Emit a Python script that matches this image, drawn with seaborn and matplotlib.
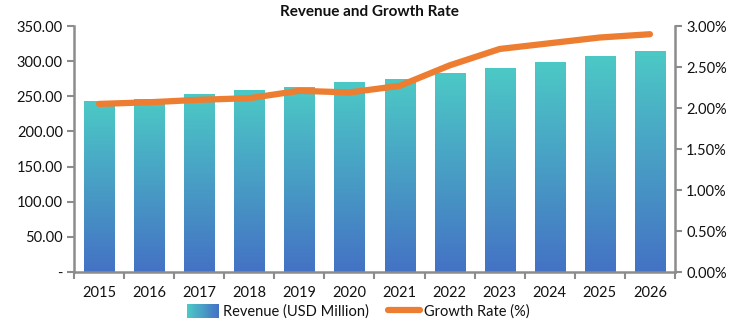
import numpy as np
import pandas as pd
import matplotlib
matplotlib.use("Agg")
import matplotlib.pyplot as plt
import seaborn as sns
from matplotlib.colors import LinearSegmentedColormap, to_rgb
from matplotlib.legend_handler import HandlerBase
from matplotlib.patches import Rectangle
from matplotlib.lines import Line2D

years = ["2015", "2016", "2017", "2018", "2019", "2020", "2021", "2022", "2023", "2024", "2025", "2026"]
revenue = [242, 246, 252, 258, 263, 269, 274.5, 282, 290, 298, 306, 314]
growth = [2.05, 2.07, 2.10, 2.12, 2.21, 2.19, 2.27, 2.52, 2.72, 2.79, 2.86, 2.90]
left_ticks = [0, 50, 100, 150, 200, 250, 300, 350]
left_labels = ["-", "50.00", "100.00", "150.00", "200.00", "250.00", "300.00", "350.00"]
right_ticks = [0, 0.5, 1.0, 1.5, 2.0, 2.5, 3.0]
right_labels = ["0.00%", "0.50%", "1.00%", "1.50%", "2.00%", "2.50%", "3.00%"]

TOP = "#4cc9c6"
BOT = "#4472c4"
ORANGE = "#ed7d31"
GRAY = "#8c8c8c"

sns.set_theme(style="white")
plt.rcParams["font.family"] = ["Lato", "DejaVu Sans"]

df = pd.DataFrame({"year": years, "revenue": revenue, "growth": growth})

fig = plt.figure(figsize=(7.39, 3.26), dpi=100)
ax = fig.add_axes([0.1001, 0.1656, 0.8133, 0.7546])
sns.barplot(data=df, x="year", y="revenue", ax=ax, width=0.6, color=TOP, saturation=1)

cmap = LinearSegmentedColormap.from_list("g", [BOT, TOP])
grad = np.linspace(0, 1, 256).reshape(-1, 1)
for p in ax.patches:
    x0, y0 = p.get_x(), p.get_y()
    w, h = p.get_width(), p.get_height()
    ax.imshow(grad, extent=[x0, x0 + w, y0, y0 + h], origin="lower", aspect="auto",
              cmap=cmap, zorder=2)
    p.set_visible(False)

ax.set_xlim(-0.5, 11.5)
ax.set_ylim(0, 350)
ax.set_yticks(left_ticks)
ax.set_yticklabels(left_labels)
ax.set_xlabel("")
ax.set_ylabel("")
ax.set_xticks(np.arange(-0.5, 12, 1), minor=True)
ax.tick_params(axis="x", which="major", length=0, pad=10, labelsize=10.5, colors="#111111")
ax.tick_params(axis="x", which="minor", length=5, width=1.5, color=GRAY, direction="out", bottom=True)
ax.tick_params(axis="y", length=5, width=1.5, color=GRAY, direction="out", left=True,
               labelsize=10.5, labelcolor="#111111", pad=3)

ax2 = ax.twinx()
sns.lineplot(data=df, x="year", y="growth", ax=ax2, color=ORANGE, linewidth=4.5,
             solid_capstyle="round", solid_joinstyle="round", zorder=5)
ax2.set_ylim(0, 3.0)
ax2.set_xlim(-0.5, 11.5)
ax2.set_yticks(right_ticks)
ax2.set_yticklabels(right_labels)
ax2.set_ylabel("")
ax2.set_xlabel("")
ax2.tick_params(axis="y", length=5, width=1.5, color=GRAY, direction="out", right=True,
                labelsize=10.5, labelcolor="#111111", pad=3)

for a in (ax, ax2):
    for s in a.spines.values():
        s.set_visible(False)
ax.spines["left"].set_visible(True)
ax.spines["bottom"].set_visible(True)
ax2.spines["right"].set_visible(True)
for s in (ax.spines["left"], ax.spines["bottom"], ax2.spines["right"]):
    s.set_color(GRAY)
    s.set_linewidth(1.8)

fig.text(0.5, 0.962, "Revenue and Growth Rate", ha="center", va="center",
         fontsize=11, fontweight="bold", color="#111111")


class GradHandler(HandlerBase):
    def create_artists(self, legend, orig_handle, xdescent, ydescent, width, height, fontsize, trans):
        arts = []
        n = 30
        c0 = np.array(to_rgb(TOP))
        c1 = np.array(to_rgb(BOT))
        for i in range(n):
            t = i / (n - 1)
            r = Rectangle((-xdescent + width * i / n, -ydescent), width / n + 0.3, height,
                          facecolor=tuple(c0 * (1 - t) + c1 * t), edgecolor="none", transform=trans)
            arts.append(r)
        return arts


rev_handle = Rectangle((0, 0), 1, 1)
line_handle = Line2D([0], [0], color=ORANGE, linewidth=4.5, solid_capstyle="round")
leg = fig.legend([rev_handle, line_handle], ["Revenue (USD Million)", "Growth Rate (%)"],
                 handler_map={Rectangle: GradHandler()}, loc="center", bbox_to_anchor=(0.485, 0.045),
                 ncol=2, frameon=False, fontsize=10.5, handlelength=2.2, handleheight=1.1,
                 handletextpad=0.3, columnspacing=1.3, labelcolor="#111111", borderpad=0.1)

fig.savefig("out.png", dpi=100)
